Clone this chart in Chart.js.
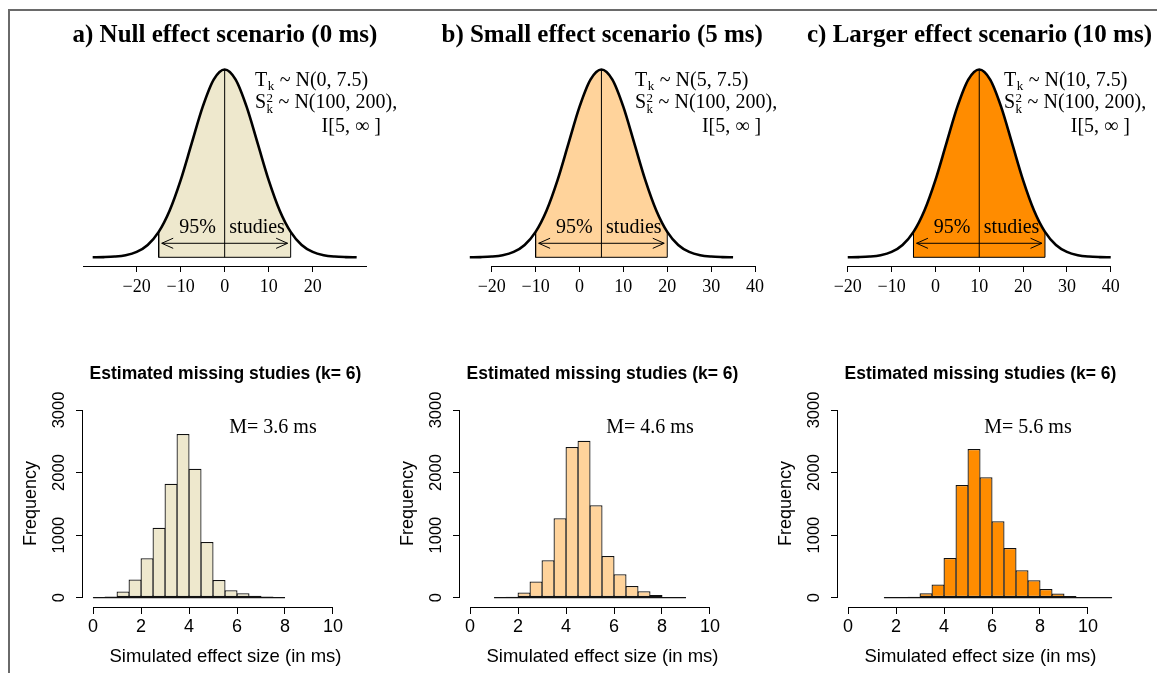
<!DOCTYPE html>
<html>
<head>
<meta charset="utf-8">
<script src="https://cdn.jsdelivr.net/npm/chart.js@4/dist/chart.umd.min.js"></script>
<style>
html,body{margin:0;padding:0;background:#fff;width:1157px;height:673px;overflow:hidden;}
#frame{position:absolute;left:8px;top:9px;width:1200px;height:700px;border-left:2px solid #6a6a6a;border-top:2px solid #6a6a6a;}
canvas{position:absolute;}
</style>
</head>
<body>
<div id="frame"></div>
<script>
// ---------------- data ----------------
const panelTitles = ['a) Null effect scenario (0 ms)', 'b) Small effect scenario (5 ms)', 'c) Larger effect scenario (10 ms)'];
const effectMeans = [0, 5, 10];
const effectSD = 7.5;
const curveOffsets = [-30,-27.5,-25,-22.5,-20,-17.5,-15,-12.5,-10,-7.5,-5,-2.5,0,2.5,5,7.5,10,12.5,15,17.5,20,22.5,25,27.5,30];
const curveHeights = [0.0003,0.0012,0.0039,0.0111,0.0286,0.0657,0.1353,0.2494,0.4111,0.6065,0.8007,0.9460,1.0,0.9460,0.8007,0.6065,0.4111,0.2494,0.1353,0.0657,0.0286,0.0111,0.0039,0.0012,0.0003];
const intervalLow = [-15, -10, -5];
const intervalHigh = [15, 20, 25];
const topTicks = [[-20,-10,0,10,20],[-20,-10,0,10,20,30,40],[-20,-10,0,10,20,30,40]];

const histTitle = 'Estimated missing studies (k= 6)';
const histXLabel = 'Simulated effect size (in ms)';
const histYLabel = 'Frequency';
const histBinsA = [0,0.5,1,1.5,2,2.5,3,3.5,4,4.5,5,5.5,6,6.5,7,7.5];
const histCountsA = [3,16,96,288,629,1119,1822,2616,2062,890,282,117,69,30,16,5];
const histBinsB = [1,1.5,2,2.5,3,3.5,4,4.5,5,5.5,6,6.5,7,7.5,8,8.5];
const histCountsB = [4,15,80,256,597,1269,2409,2510,1476,666,373,187,101,43,11,4];
const histBinsC = [1.5,2,2.5,3,3.5,4,4.5,5,5.5,6,6.5,7,7.5,8,8.5,9,9.5,10,10.5];
const histCountsC = [2,5,15,69,208,634,1802,2377,1924,1221,794,437,277,139,64,27,11,5,2];
const histTicksX = [0,2,4,6,8,10];
const histTicksY = [0,1000,2000,3000];
const meanLabels = ['M= 3.6 ms','M= 4.6 ms','M= 5.6 ms'];

// ---------------- styling / layout ----------------
const fills = ['#EEE8CD', '#FFD39B', '#FF8C00'];
const SERIF = "'Liberation Serif', 'Times New Roman', serif";
const SANS = "'Liberation Sans', Arial, sans-serif";

const topLayouts = [
  {canvas:[30,0,380,305],  area:[83,55,367,266],   xr:[-32.2,32.35],  axisX:[-32.2,32.35], titleX:224.9, annX:6.89,  annR:35.5},
  {canvas:[410,0,380,305], area:[446,55,758,266],  xr:[-30.42,40.68], axisX:[-20,40],      titleX:602.2, annX:12.65, annR:41.4},
  {canvas:[790,0,367,305], area:[846,55,1113,266], xr:[-20.4,40.52],  axisX:[-20,40],      titleX:979.5, annX:15.65, annR:44.4}
];
const topY = [-0.0463, 1.0772];
const histLayouts = [
  {canvas:[0,340,385,333],   area:[83,400,368,607]},
  {canvas:[377,340,400,333], area:[460,400,745,607]},
  {canvas:[755,340,402,333], area:[838,400,1123,607]}
];
const histXR = [-0.42, 11.46];
const histYR = [-150, 3160];
const arrowY = 0.0746, arrowInset = 0.7, headLen = 2.6, headHalf = 0.027;

// ---------------- plugins ----------------
function drawRich(ctx, parts, x, y, size, family, weight, align) {
  const small = Math.round(size * 0.65);
  const fMain = (weight || 'normal') + ' ' + size + 'px ' + family;
  const fSmall = 'normal ' + small + 'px ' + family;
  const widths = parts.map(p => {
    if (p.t !== undefined) { ctx.font = fMain; return ctx.measureText(p.t).width; }
    ctx.font = fSmall;
    return Math.max(p.sup ? ctx.measureText(p.sup).width : 0, p.sub ? ctx.measureText(p.sub).width : 0) + 1;
  });
  const total = widths.reduce((a, b) => a + b, 0);
  let cx = align === 'right' ? x - total : (align === 'center' ? x - total / 2 : x);
  ctx.fillStyle = '#000'; ctx.textBaseline = 'alphabetic'; ctx.textAlign = 'left';
  parts.forEach((p, k) => {
    if (p.t !== undefined) { ctx.font = fMain; ctx.fillText(p.t, cx, y); }
    else {
      ctx.font = fSmall;
      if (p.sup) ctx.fillText(p.sup, cx + 0.5, y - size * 0.33);
      if (p.sub) ctx.fillText(p.sub, cx + 0.5, y + size * 0.22);
    }
    cx += widths[k];
  });
}
const textPlugin = {
  id: 'rText',
  afterDraw(chart, args, opts) {
    if (!opts || !opts.items) return;
    const ctx = chart.ctx; const off = opts.offset || [0, 0];
    ctx.save();
    for (const it of opts.items) {
      let px, py;
      if (it.page) { px = it.page[0] - off[0]; py = it.page[1] - off[1]; }
      else { px = chart.scales.x.getPixelForValue(it.x); py = chart.scales.y.getPixelForValue(it.y); }
      drawRich(ctx, it.parts || [{t: it.text}], px, py, it.size, it.family, it.weight, it.align);
    }
    ctx.restore();
  }
};
const axisPlugin = {
  id: 'rAxis',
  afterDraw(chart, args, opts) {
    if (!opts) return;
    const ctx = chart.ctx; const a = chart.chartArea;
    ctx.save(); ctx.strokeStyle = '#000'; ctx.lineWidth = 1;
    if (opts.x) {
      const y0 = Math.round(a.bottom) + 0.5;
      ctx.beginPath();
      ctx.moveTo(chart.scales.x.getPixelForValue(opts.x[0]), y0);
      ctx.lineTo(chart.scales.x.getPixelForValue(opts.x[1]), y0);
      ctx.stroke();
    }
    if (opts.y) {
      const x0 = Math.round(a.left) - 0.5;
      ctx.beginPath();
      ctx.moveTo(x0, chart.scales.y.getPixelForValue(opts.y[0]));
      ctx.lineTo(x0, chart.scales.y.getPixelForValue(opts.y[1]));
      ctx.stroke();
    }
    ctx.restore();
  }
};
Chart.register(textPlugin, axisPlugin);

function makeCanvas(r) {
  const c = document.createElement('canvas');
  c.width = r[2]; c.height = r[3];
  c.style.left = r[0] + 'px'; c.style.top = r[1] + 'px';
  document.body.appendChild(c);
  return c;
}
const minusFmt = v => (v < 0 ? '\u2212' + Math.abs(v) : String(v));
const plainFmt = v => String(v);
const lineDs = (data, extra) => Object.assign({type: 'line', data, borderColor: '#000', borderWidth: 1, pointRadius: 0, fill: false, tension: 0}, extra || {});

// ---------------- top density panels ----------------
function makeTop(i) {
  const L = topLayouts[i];
  const m = effectMeans[i];
  const curve = curveOffsets.map((o, k) => ({x: m + o, y: curveHeights[k]}));
  const shade = curve.filter(p => p.x >= intervalLow[i] && p.x <= intervalHigh[i]);
  const peak = Math.max(...curveHeights);
  const lo = intervalLow[i], hi = intervalHigh[i];
  const hLo = shade[0].y, hHi = shade[shade.length - 1].y;
  const aL = lo + arrowInset, aR = hi - arrowInset;
  const datasets = [
    lineDs(curve, {borderWidth: 2.6, cubicInterpolationMode: 'monotone'}),
    lineDs([{x: m, y: 0}, {x: m, y: peak}]),
    lineDs([{x: aL, y: arrowY}, {x: aR, y: arrowY}]),
    lineDs([{x: aL + headLen, y: arrowY + headHalf}, {x: aL, y: arrowY}, {x: aL + headLen, y: arrowY - headHalf}]),
    lineDs([{x: aR - headLen, y: arrowY + headHalf}, {x: aR, y: arrowY}, {x: aR - headLen, y: arrowY - headHalf}]),
    lineDs([{x: lo, y: hLo}, {x: lo, y: 0}, {x: hi, y: 0}, {x: hi, y: hHi}]),
    lineDs(shade, {borderWidth: 0, fill: 'origin', backgroundColor: fills[i], cubicInterpolationMode: 'monotone'})
  ];
  const c = L.canvas, a = L.area;
  new Chart(makeCanvas(c), {
    type: 'line',
    data: {datasets},
    options: {
      responsive: false, animation: false, events: [],
      layout: {padding: {left: a[0] - c[0], right: c[0] + c[2] - a[2], top: a[1] - c[1], bottom: 0}},
      scales: {
        x: {
          type: 'linear', min: L.xr[0], max: L.xr[1],
          afterBuildTicks: s => { s.ticks = topTicks[i].map(v => ({value: v})); },
          afterFit: s => { s.height = c[1] + c[3] - a[3]; s.paddingLeft = 0; s.paddingRight = 0; },
          grid: {display: true, drawOnChartArea: false, drawTicks: true, tickLength: 6, color: '#000', lineWidth: 1},
          border: {display: false},
          ticks: {color: '#000', font: {family: SERIF, size: 18}, padding: 4, maxRotation: 0, autoSkip: false, callback: minusFmt}
        },
        y: {type: 'linear', display: false, min: topY[0], max: topY[1]}
      },
      plugins: {
        legend: {display: false}, tooltip: {enabled: false},
        rAxis: {x: L.axisX},
        rText: {
          offset: [c[0], c[1]],
          items: [
            {page: [L.titleX, 41.7], text: panelTitles[i], size: 25, family: SERIF, weight: 'bold', align: 'center'},
            {x: L.annX, y: 0.912, parts: [{t: 'T'}, {sub: 'k'}, {t: ' ~ N(' + m + ', ' + effectSD + ')'}], size: 20, family: SERIF, align: 'left'},
            {x: L.annX, y: 0.793, parts: [{t: 'S'}, {sup: '2', sub: 'k'}, {t: ' ~ N(100, 200),'}], size: 20, family: SERIF, align: 'left'},
            {x: L.annR, y: 0.669, text: 'I[5, \u221E ]', size: 20, family: SERIF, align: 'right'},
            {x: m - 2.0, y: 0.131, text: '95%', size: 20, family: SERIF, align: 'right'},
            {x: m + 1.05, y: 0.131, text: 'studies', size: 20, family: SERIF, align: 'left'}
          ]
        }
      }
    }
  });
}

// ---------------- bottom histogram panels ----------------
const histBins = [histBinsA, histBinsB, histBinsC];
const histCounts = [histCountsA, histCountsB, histCountsC];
function makeHist(i) {
  const L = histLayouts[i];
  const bins = histBins[i], counts = histCounts[i];
  const bw = bins[1] - bins[0];
  const bars = bins.map((b, k) => ({x: b + bw / 2, y: counts[k]}));
  const base = [{x: bins[0], y: 0}, {x: bins[bins.length - 1] + bw, y: 0}];
  const c = L.canvas, a = L.area;
  new Chart(makeCanvas(c), {
    type: 'bar',
    data: {
      datasets: [
        lineDs(base, {borderColor: '#111', borderWidth: 1.2}),
        {type: 'bar', data: bars, backgroundColor: fills[i], borderColor: '#111', borderWidth: 1.25, borderSkipped: false,
         barPercentage: 13 / 12, categoryPercentage: 1}
      ]
    },
    options: {
      responsive: false, animation: false, events: [],
      layout: {padding: {left: 0, right: c[0] + c[2] - a[2], top: a[1] - c[1], bottom: 0}},
      scales: {
        x: {
          type: 'linear', min: histXR[0], max: histXR[1], offset: false,
          afterBuildTicks: s => { s.ticks = histTicksX.map(v => ({value: v})); },
          afterFit: s => { s.height = c[1] + c[3] - a[3]; s.paddingLeft = 0; s.paddingRight = 0; },
          grid: {display: true, drawOnChartArea: false, drawTicks: true, tickLength: 7, color: '#000', lineWidth: 1, offset: false},
          border: {display: false},
          ticks: {color: '#000', font: {family: SANS, size: 18}, padding: 2, maxRotation: 0, autoSkip: false, callback: plainFmt},
          title: {display: true, text: histXLabel, color: '#000', font: {family: SANS, size: 18.5}, padding: {top: 0, bottom: 5}}
        },
        y: {
          type: 'linear', min: histYR[0], max: histYR[1],
          afterBuildTicks: s => { s.ticks = histTicksY.map(v => ({value: v})); },
          afterFit: s => { s.width = a[0] - c[0]; s.paddingTop = 0; s.paddingBottom = 0; },
          grid: {display: true, drawOnChartArea: false, drawTicks: true, tickLength: 7, color: '#000', lineWidth: 1},
          border: {display: false},
          ticks: {color: '#000', font: {family: SANS, size: 16.5}, padding: -2, minRotation: 90, maxRotation: 90, crossAlign: 'center', autoSkip: false, callback: plainFmt},
          title: {display: true, text: histYLabel, color: '#000', font: {family: SANS, size: 18}, padding: {top: 20.5, bottom: 0}}
        }
      },
      plugins: {
        legend: {display: false}, tooltip: {enabled: false},
        rAxis: {x: [histTicksX[0], histTicksX[histTicksX.length - 1]], y: [histTicksY[0], histTicksY[histTicksY.length - 1]]},
        rText: {
          offset: [c[0], c[1]],
          items: [
            {page: [(a[0] + a[2]) / 2, 379.3], text: histTitle, size: 17.5, family: SANS, weight: 'bold', align: 'center'},
            {x: 7.5, y: 2637, text: meanLabels[i], size: 20, family: SERIF, align: 'center'}
          ]
        }
      }
    }
  });
}

[0, 1, 2].forEach(makeTop);
[0, 1, 2].forEach(makeHist);
</script>
</body>
</html>
